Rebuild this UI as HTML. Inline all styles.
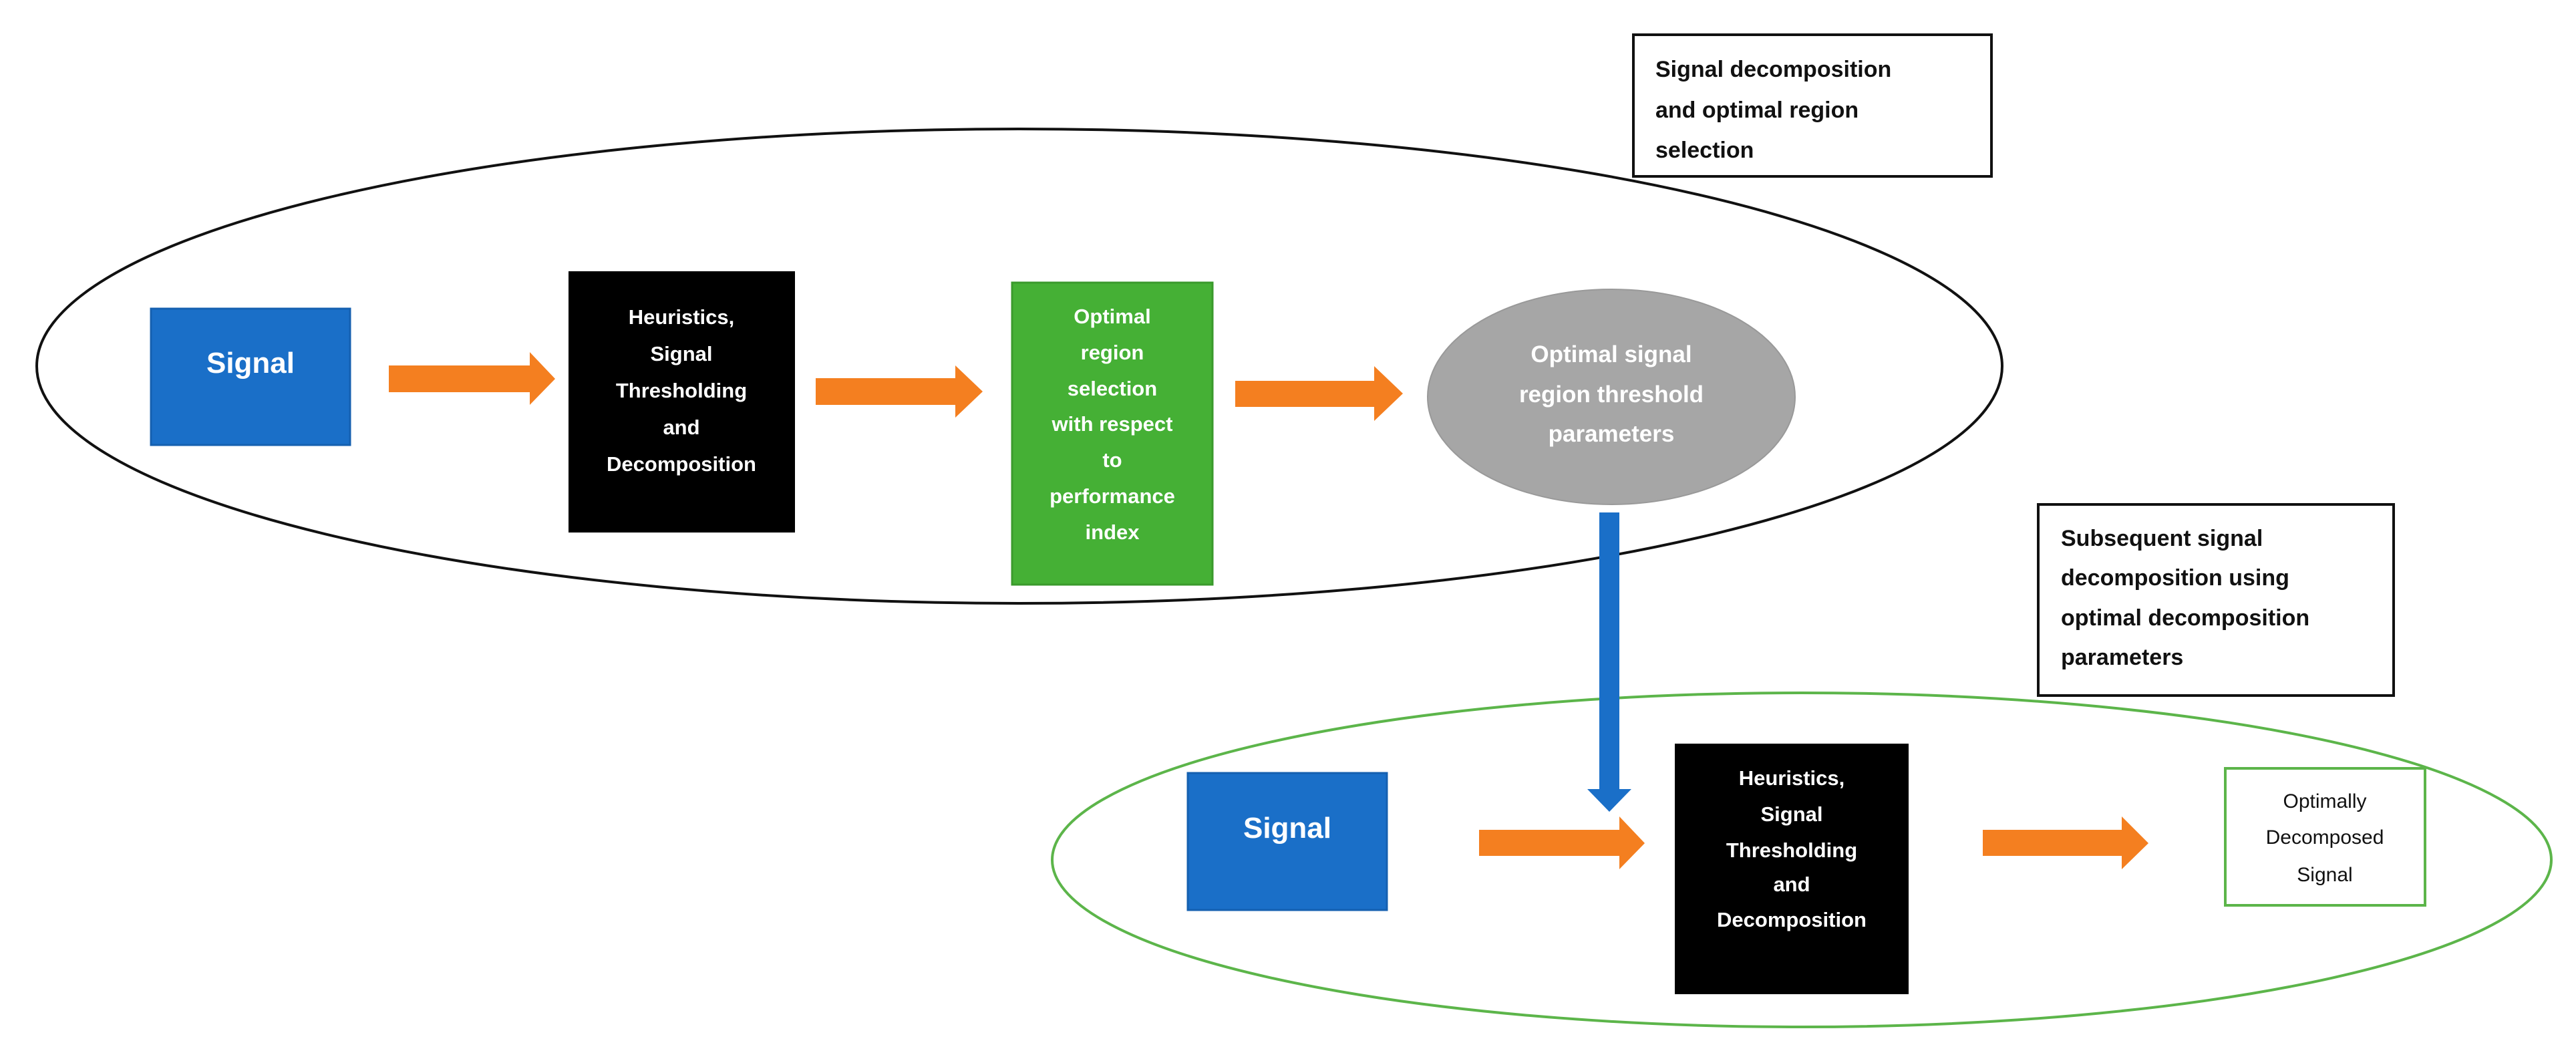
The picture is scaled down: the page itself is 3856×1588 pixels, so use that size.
<!DOCTYPE html>
<html><head><meta charset="utf-8"><style>
html,body{margin:0;padding:0;background:#fff;}
svg{display:block;}
text{font-family:"Liberation Sans",sans-serif;}
</style></head><body>
<svg width="3856" height="1588" viewBox="0 0 3856 1588" xmlns="http://www.w3.org/2000/svg">
<rect width="3856" height="1588" fill="#fff"/>
<ellipse cx="1526" cy="548" rx="1471" ry="355" fill="none" stroke="#111" stroke-width="4"/>
<ellipse cx="2697" cy="1287" rx="1122" ry="250" fill="none" stroke="#5cb54a" stroke-width="4"/>

<rect x="2445" y="52" width="536" height="212" fill="#fff" stroke="#111" stroke-width="4"/>
<g font-size="34" font-weight="bold" fill="#111">
<text x="2478" y="115">Signal decomposition</text>
<text x="2478" y="176">and optimal region</text>
<text x="2478" y="236">selection</text>
</g>
<rect x="3051" y="755" width="532" height="286" fill="#fff" stroke="#111" stroke-width="4"/>
<g font-size="34" font-weight="bold" fill="#111">
<text x="3085" y="817">Subsequent signal</text>
<text x="3085" y="876">decomposition using</text>
<text x="3085" y="936">optimal decomposition</text>
<text x="3085" y="995">parameters</text>
</g>

<rect x="226" y="462" width="298" height="204" fill="#1a6fc8" stroke="#1560b0" stroke-width="3"/>
<text x="375" y="558" font-size="44" font-weight="bold" fill="#fff" text-anchor="middle">Signal</text>

<polygon points="582,547 793,547 793,527 831,567 793,606 793,587 582,587" fill="#f47f20"/>
<polygon points="1221,566 1430,566 1430,547 1471,586 1430,625 1430,606 1221,606" fill="#f47f20"/>
<polygon points="1849,570 2057,570 2057,548 2100,589 2057,630 2057,609 1849,609" fill="#f47f20"/>

<rect x="851" y="406" width="339" height="391" fill="#000"/>
<g font-size="31" font-weight="bold" fill="#fff" text-anchor="middle">
<text x="1020" y="485">Heuristics,</text>
<text x="1020" y="540">Signal</text>
<text x="1020" y="595">Thresholding</text>
<text x="1020" y="650">and</text>
<text x="1020" y="705">Decomposition</text>
</g>

<rect x="1515" y="423" width="300" height="452" fill="#45b035" stroke="#3a9a2c" stroke-width="3"/>
<g font-size="31" font-weight="bold" fill="#fff" text-anchor="middle">
<text x="1665" y="484">Optimal</text>
<text x="1665" y="538">region</text>
<text x="1665" y="592">selection</text>
<text x="1665" y="645">with respect</text>
<text x="1665" y="699">to</text>
<text x="1665" y="753">performance</text>
<text x="1665" y="807">index</text>
</g>

<ellipse cx="2412" cy="594" rx="275" ry="161" fill="#a6a6a6" stroke="#999" stroke-width="2"/>
<g font-size="35" font-weight="bold" fill="#fff" text-anchor="middle">
<text x="2412" y="542">Optimal signal</text>
<text x="2412" y="602">region threshold</text>
<text x="2412" y="661">parameters</text>
</g>

<rect x="2394" y="767" width="30" height="416" fill="#1a6fc8"/>
<polygon points="2376,1181 2442,1181 2409,1215" fill="#1a6fc8"/>

<rect x="1778" y="1157" width="298" height="205" fill="#1a6fc8" stroke="#1560b0" stroke-width="3"/>
<text x="1927" y="1254" font-size="44" font-weight="bold" fill="#fff" text-anchor="middle">Signal</text>

<polygon points="2214,1242 2424,1242 2424,1222 2462,1262 2424,1301 2424,1281 2214,1281" fill="#f47f20"/>
<polygon points="2968,1242 3176,1242 3176,1222 3216,1262 3176,1301 3176,1281 2968,1281" fill="#f47f20"/>

<rect x="2507" y="1113" width="350" height="375" fill="#000"/>
<g font-size="31" font-weight="bold" fill="#fff" text-anchor="middle">
<text x="2682" y="1175">Heuristics,</text>
<text x="2682" y="1229">Signal</text>
<text x="2682" y="1283">Thresholding</text>
<text x="2682" y="1334">and</text>
<text x="2682" y="1387">Decomposition</text>
</g>

<rect x="3331" y="1150" width="299" height="205" fill="#fff" stroke="#5cb54a" stroke-width="4"/>
<g font-size="30" fill="#111" text-anchor="middle">
<text x="3480" y="1209">Optimally</text>
<text x="3480" y="1263">Decomposed</text>
<text x="3480" y="1319">Signal</text>
</g>
</svg>
</body></html>
